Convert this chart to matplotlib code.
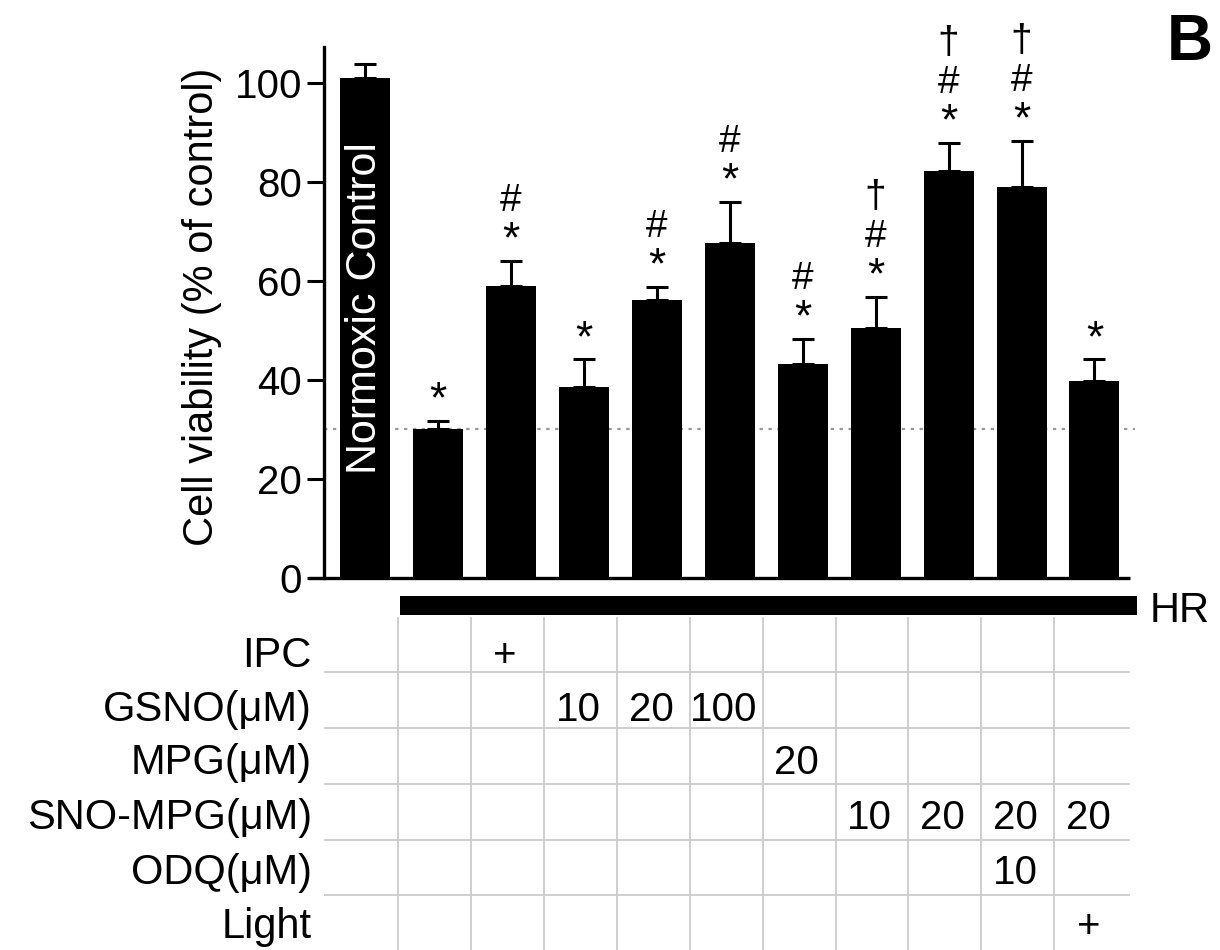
import matplotlib
matplotlib.use("Agg")
import matplotlib.pyplot as plt
import numpy as np

plt.rcParams['font.family'] = ['Liberation Sans', 'DejaVu Sans']

# values
means = [100.9, 30.0, 59.0, 38.5, 56.2, 67.7, 43.2, 50.4, 82.1, 78.9, 39.8]
errs = [3.0, 1.6, 5.0, 5.6, 2.5, 8.3, 5.0, 6.4, 5.8, 9.4, 4.3]
marks = [[], ['*'], ['*', '#'], ['*'], ['*', '#'], ['*', '#'], ['*', '#'],
         ['*', '#', '†'], ['*', '#', '†'], ['*', '#', '†'], ['*']]
hr_level = 30.1

row_labels = ['IPC', 'GSNO(μM)', 'MPG(μM)', 'SNO-MPG(μM)', 'ODQ(μM)', 'Light']
# (row, bar index, text)
cells = [(0, 2, '+'),
         (1, 3, '10'), (1, 4, '20'), (1, 5, '100'),
         (2, 6, '20'),
         (3, 7, '10'), (3, 8, '20'), (3, 9, '20'), (3, 10, '20'),
         (4, 9, '10'),
         (5, 10, '+')]

W, H = 1220, 950
fig = plt.figure(figsize=(W / 100, H / 100), dpi=100)

x = np.arange(len(means))
x0, x1 = -0.562, 10.487

ax = fig.add_axes([324 / W, 1 - 577.7 / H, (1130 - 324) / W, (577.7 - 46.7) / H])
ax.bar(x, means, width=0.685, color='black', zorder=2)
ax.errorbar(x, means, yerr=[np.zeros(len(errs)), errs], fmt='none',
            ecolor='black', elinewidth=2.2, capsize=7.9, capthick=2.2, zorder=3)
ax.plot([x0, 10.55], [hr_level, hr_level], color='#999999', ls=(0, (1.5, 2.5)),
        lw=1.6, zorder=1, clip_on=False)
ax.plot([-0.78, x1], [0, 0], color='black', lw=2.4, clip_on=False, zorder=4,
        solid_capstyle='butt')

ax.set_xlim(x0, x1)
ax.set_ylim(0, 107.3)
ax.set_yticks([0, 20, 40, 60, 80, 100])
ax.set_xticks([])
for s in ['top', 'right', 'bottom']:
    ax.spines[s].set_visible(False)
ax.spines['left'].set_linewidth(2.4)
ax.tick_params(axis='y', length=12.2, width=2.2, pad=3.5, labelsize=29)

ax.text(0, 21, 'Normoxic Control', rotation=90, color='white', ha='center',
        va='bottom', fontsize=31)

offsets = {'*': 20, '#': 60, '†': 100}
sizes = {'*': 32, '#': 28, '†': 28}
for i, (m, e) in enumerate(zip(means, errs)):
    for sym in marks[i]:
        ax.annotate(sym, (i, m + e), xytext=(0, offsets[sym] * 0.72),
                    textcoords='offset points', ha='center', va='center',
                    fontsize=sizes[sym], annotation_clip=False)

fig.text(202 / W, 1 - 307 / H, 'Cell viability (% of control)', rotation=90,
         ha='center', va='center', fontsize=30)
fig.text(1167 / W, 1 - 60 / H, 'B', fontsize=46, fontweight='bold',
         ha='left', va='baseline')

# treatment table below the bars
tab = fig.add_axes([324 / W, 0, (1130 - 324) / W, (H - 590) / H])
tab.set_xlim(x0, x1)
tab.set_ylim(H, 590)
tab.axis('off')

tab.fill_between([0.48, 10.58], 596, 615, color='black', lw=0, clip_on=False)
tab.text(10.76, 622, 'HR', fontsize=30, ha='left', va='baseline', clip_on=False)

for i in range(10):
    tab.plot([i + 0.45, i + 0.45], [618, H], color='#cccccc', lw=1.3)
for yl in [672, 728, 784, 840, 895]:
    tab.plot([x0, x1], [yl, yl], color='#cccccc', lw=1.3)

baselines = [667, 721, 774, 829, 884, 938]
for r, lab in enumerate(row_labels):
    tab.text(-0.727, baselines[r], lab, ha='right', va='baseline', fontsize=30,
             clip_on=False)
for r, b, t in cells:
    tab.text(b - 0.08, baselines[r], t, ha='center', va='baseline', fontsize=29)

fig.savefig('out.png', dpi=100)
